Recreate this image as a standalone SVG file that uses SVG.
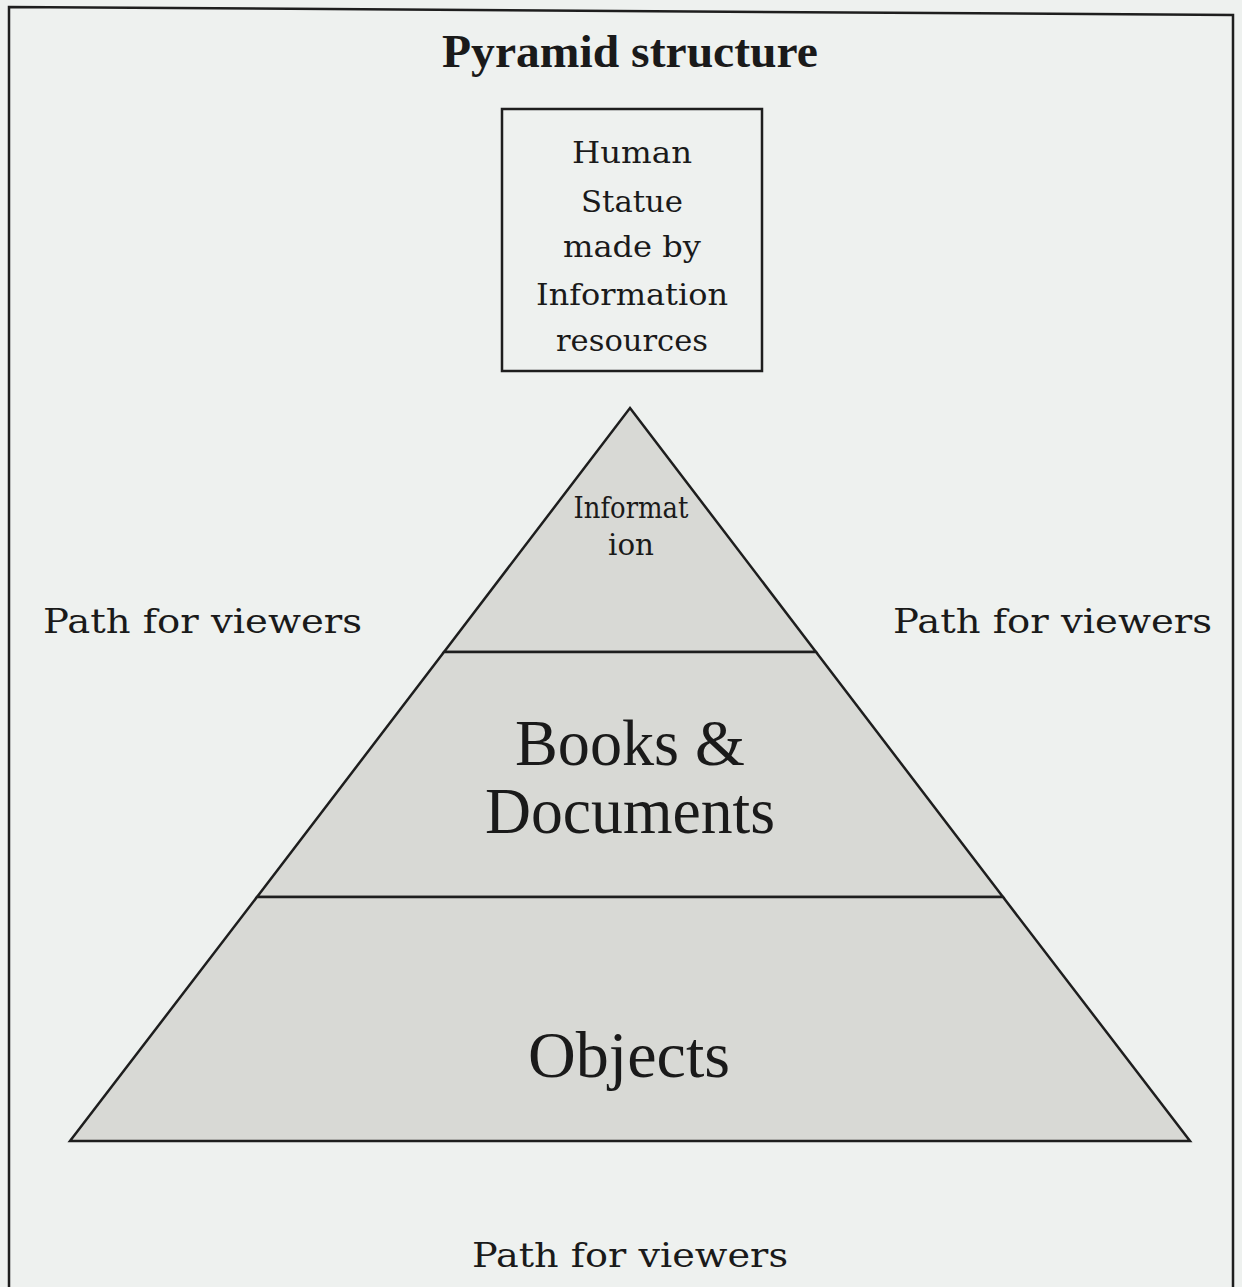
<svg xmlns="http://www.w3.org/2000/svg" width="1242" height="1287" viewBox="0 0 1242 1287">
  <style>
    .frame { fill: none; stroke: #1e1e1e; stroke-width: 2.5; }
    .tier { fill: #d8d9d5; stroke: #1e1e1e; stroke-width: 2.5; stroke-linejoin: miter; }
    .box { fill: none; stroke: #1e1e1e; stroke-width: 2.5; }
    .title { font-family: "Liberation Serif", "Times New Roman", serif; font-weight: bold; font-size: 46px; fill: #1a1a1a; }
    .slab { font-family: "DejaVu Serif", "Liberation Serif", serif; fill: #1a1a1a; }
    .big { font-family: "Liberation Serif", "Times New Roman", serif; font-size: 65px; fill: #1a1a1a; }
  </style>

  <!-- paper -->
  <rect x="0" y="0" width="1242" height="1287" fill="#eef1ef"/>
  <path class="frame" d="M9,1287 V7 L1233,15 V1287"/>

  <!-- heading -->
  <text class="title" x="442" y="67" textLength="376" lengthAdjust="spacingAndGlyphs">Pyramid structure</text>

  <!-- statue box at the top -->
  <g id="statue">
    <rect class="box" x="502" y="109" width="260" height="262"/>
    <g class="slab" font-size="30" text-anchor="middle">
      <text x="632" y="163" textLength="120" lengthAdjust="spacingAndGlyphs">Human</text>
      <text x="632" y="212" textLength="102" lengthAdjust="spacingAndGlyphs">Statue</text>
      <text x="632" y="257" textLength="138" lengthAdjust="spacingAndGlyphs">made by</text>
      <text x="632" y="305" textLength="192" lengthAdjust="spacingAndGlyphs">Information</text>
      <text x="632" y="351" textLength="152" lengthAdjust="spacingAndGlyphs">resources</text>
    </g>
  </g>

  <!-- pyramid tiers -->
  <g id="tier-information">
    <polygon class="tier" points="630,408 816,652 444,652"/>
    <g class="slab" font-size="29" text-anchor="middle">
      <text x="631" y="518" textLength="115" lengthAdjust="spacingAndGlyphs">Informat</text>
      <text x="631" y="555" textLength="46" lengthAdjust="spacingAndGlyphs">ion</text>
    </g>
  </g>

  <g id="tier-books">
    <polygon class="tier" points="444,652 816,652 1003,897 257,897"/>
    <text class="big" x="630" y="765" text-anchor="middle" textLength="230" lengthAdjust="spacingAndGlyphs">Books &amp;</text>
    <text class="big" x="630" y="833" text-anchor="middle" textLength="290" lengthAdjust="spacingAndGlyphs">Documents</text>
  </g>

  <g id="tier-objects">
    <polygon class="tier" points="257,897 1003,897 1190,1141 70,1141"/>
    <text class="big" x="629" y="1077" text-anchor="middle" textLength="202" lengthAdjust="spacingAndGlyphs">Objects</text>
  </g>

  <!-- viewer paths around the pyramid -->
  <g id="paths" class="slab" font-size="33">
    <text id="path-left" x="43" y="633" textLength="319" lengthAdjust="spacingAndGlyphs">Path for viewers</text>
    <text id="path-right" x="893" y="633" textLength="319" lengthAdjust="spacingAndGlyphs">Path for viewers</text>
    <text id="path-bottom" x="472" y="1267" textLength="316" lengthAdjust="spacingAndGlyphs">Path for viewers</text>
  </g>

  <g id="connectors"/>
</svg>
